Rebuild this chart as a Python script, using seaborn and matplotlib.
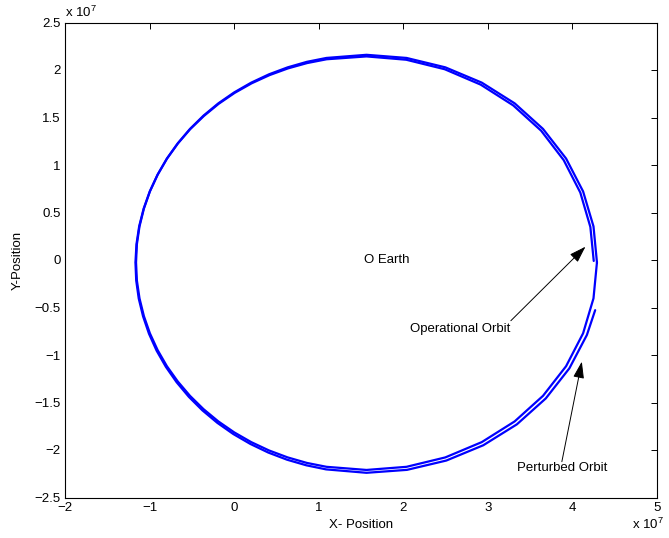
import numpy as np
import pandas as pd
import matplotlib
matplotlib.use("Agg")
import matplotlib.pyplot as plt
import seaborn as sns
from matplotlib.ticker import FuncFormatter

SCALE = 1e7  # positions are given in units of 1e7

# Perturbed orbit (full loop), X/Y in units of 1e7
pert_x = [4.290, 4.249, 4.126, 3.925, 3.652, 3.317, 2.928, 2.497, 2.038, 1.565,
          1.092, 0.860, 0.633, 0.413, 0.202, 0.002, -0.187, -0.362, -0.522,
          -0.667, -0.795, -0.905, -0.996, -1.067, -1.119, -1.150, -1.160,
          -1.150, -1.119, -1.067, -0.996, -0.905, -0.795, -0.667, -0.522,
          -0.362, -0.187, 0.002, 0.202, 0.413, 0.633, 0.860, 1.092, 1.565,
          2.038, 2.497, 2.928, 3.317, 3.652, 3.925, 4.126, 4.249, 4.290]
pert_y = [-0.025, 0.354, 0.722, 1.068, 1.380, 1.649, 1.867, 2.028, 2.127, 2.160,
          2.127, 2.086, 2.028, 1.955, 1.867, 1.765, 1.649, 1.520, 1.380,
          1.228, 1.068, 0.898, 0.722, 0.541, 0.354, 0.166, -0.025,
          -0.216, -0.404, -0.591, -0.772, -0.948, -1.118, -1.278, -1.430,
          -1.570, -1.699, -1.815, -1.917, -2.005, -2.078, -2.136, -2.177, -2.210,
          -2.177, -2.078, -1.917, -1.699, -1.430, -1.118, -0.772, -0.404, -0.025]

# Operational orbit (open loop), X/Y in units of 1e7
op_x = [4.269, 4.171, 3.964, 3.685, 3.343, 2.946, 2.509, 2.044, 1.565,
        1.087, 0.853, 0.625, 0.404, 0.191, -0.010, -0.199, -0.375, -0.535,
        -0.680, -0.807, -0.917, -1.007, -1.077, -1.128, -1.158, -1.167,
        -1.155, -1.123, -1.070, -0.997, -0.905, -0.794, -0.665, -0.520,
        -0.358, -0.183, 0.006, 0.207, 0.418, 0.637, 0.863, 1.094,
        1.565, 2.035, 2.490, 2.915, 3.299, 3.630, 3.897, 4.093, 4.212, 4.252]
op_y = [-0.528, -0.789, -1.140, -1.457, -1.730, -1.950, -2.111, -2.209, -2.240,
        -2.204, -2.161, -2.102, -2.027, -1.936, -1.832, -1.714, -1.583, -1.441,
        -1.287, -1.125, -0.954, -0.776, -0.593, -0.406, -0.216, -0.025,
        0.166, 0.355, 0.541, 0.723, 0.898, 1.067, 1.227, 1.377,
        1.516, 1.644, 1.759, 1.860, 1.946, 2.017, 2.073, 2.113,
        2.143, 2.108, 2.008, 1.846, 1.628, 1.361, 1.051, 0.710, 0.348, -0.010]

x_ticks = [-2, -1, 0, 1, 2, 3, 4, 5]
y_ticks = [-2.5, -2, -1.5, -1, -0.5, 0, 0.5, 1, 1.5, 2, 2.5]

sns.set_theme(style="white")
plt.rcParams["font.family"] = ["Liberation Sans", "DejaVu Sans"]
plt.rcParams["mathtext.fontset"] = "custom"
plt.rcParams["mathtext.rm"] = "Liberation Sans"
plt.rcParams["mathtext.it"] = "Liberation Sans:italic"

fig = plt.figure(figsize=(6.69, 5.38), dpi=100)
fig.patch.set_facecolor("white")
ax = fig.add_axes([65 / 669, 40.5 / 538, 592 / 669, 475 / 538])
ax.set_facecolor("white")

df_p = pd.DataFrame({"x": np.array(pert_x) * SCALE, "y": np.array(pert_y) * SCALE})
df_o = pd.DataFrame({"x": np.array(op_x) * SCALE, "y": np.array(op_y) * SCALE})
sns.lineplot(data=df_p, x="x", y="y", sort=False, estimator=None,
             color="#0000ff", linewidth=1.6, ax=ax)
sns.lineplot(data=df_o, x="x", y="y", sort=False, estimator=None,
             color="#0000ff", linewidth=1.6, ax=ax)

ax.set_xlim(-2 * SCALE, 5 * SCALE)
ax.set_ylim(-2.5 * SCALE, 2.5 * SCALE)
ax.set_xticks([t * SCALE for t in x_ticks])
ax.set_yticks([t * SCALE for t in y_ticks])
fmt = FuncFormatter(lambda v, p: f"{v / SCALE:g}".replace("-", "\u2212"))
ax.xaxis.set_major_formatter(fmt)
ax.yaxis.set_major_formatter(fmt)
ax.tick_params(direction="in", length=4, width=0.7, colors="black",
               top=True, right=True, labelsize=9.5, pad=3)
for s in ax.spines.values():
    s.set_color("black")
    s.set_linewidth(0.8)

ax.set_xlabel("X- Position", fontsize=9.5, color="black", labelpad=4)
ax.set_ylabel("Y-Position", fontsize=9.5, color="black", labelpad=8)

ax.text(0.0, 1.006, r"x 10$^{7}$", transform=ax.transAxes, ha="left",
        va="bottom", fontsize=9.5, color="black")
ax.text(0.985, -0.056, r"x 10$^{7}$", transform=ax.transAxes, ha="center",
        va="center", fontsize=9.5, color="black")

ax.text(1.53 * SCALE, 0.0, "O Earth", ha="left", va="center",
        fontsize=9.5, color="black")

ax.text(2.676 * SCALE, -0.729 * SCALE, "Operational Orbit", ha="center",
        va="center", fontsize=9.5, color="black")
ax.annotate("", xy=(4.154 * SCALE, 0.14 * SCALE),
            xytext=(3.272 * SCALE, -0.639 * SCALE),
            arrowprops=dict(arrowstyle="-|>,head_length=0.85,head_width=0.28",
                            color="black", lw=0.7, shrinkA=0, shrinkB=0))

ax.text(3.875 * SCALE, -2.19 * SCALE, "Perturbed Orbit", ha="center",
        va="center", fontsize=9.5, color="black")
ax.annotate("", xy=(4.111 * SCALE, -1.07 * SCALE),
            xytext=(3.875 * SCALE, -2.123 * SCALE),
            arrowprops=dict(arrowstyle="-|>,head_length=0.85,head_width=0.28",
                            color="black", lw=0.7, shrinkA=0, shrinkB=0))

fig.savefig("out.png", dpi=100, facecolor="white")
